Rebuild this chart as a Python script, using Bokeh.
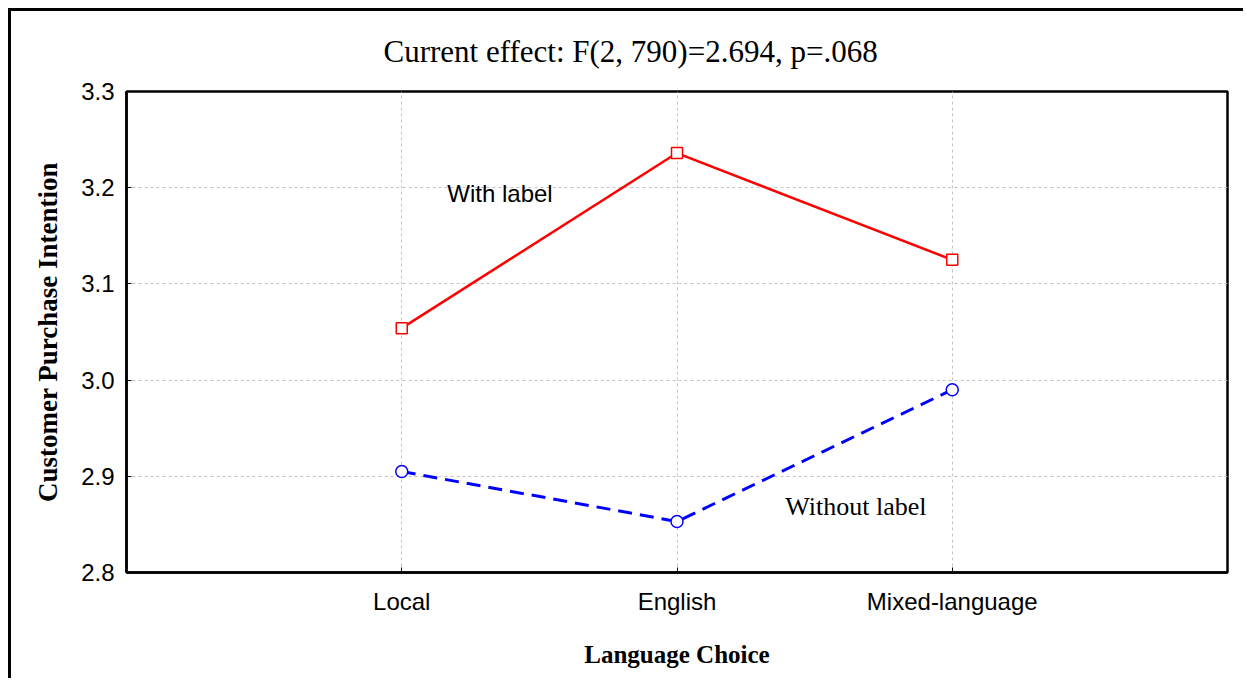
from bokeh.plotting import figure
from bokeh.models import Range1d, FixedTicker, Label, ColumnDataSource
from bokeh.embed import file_html
from bokeh.resources import INLINE

categories = ["Local", "English", "Mixed-language"]
cat_pos = [1, 2, 3]
with_label = [3.054, 3.236, 3.125]
without_label = [2.905, 2.853, 2.990]
y_ticks = [2.8, 2.9, 3.0, 3.1, 3.2, 3.3]
y_tick_labels = ["2.8", "2.9", "3.0", "3.1", "3.2", "3.3"]

title_text = "Current effect: F(2, 790)=2.694, p=.068"
x_title = "Language Choice"
y_title = "Customer Purchase Intention"

SANS = "Liberation Sans"
SERIF = "Liberation Serif"

p = figure(width=1235, height=670, output_backend="svg", toolbar_location=None,
           x_range=Range1d(0, 4), y_range=Range1d(2.8, 3.3),
           min_border_left=115, min_border_top=80, min_border_right=19,
           min_border_bottom=109, title=title_text)
p.styles = {"border-left": "3px solid black", "border-top": "3px solid black",
            "margin-left": "8px", "margin-top": "8px"}
p.background_fill_color = "white"
p.border_fill_color = "white"
p.outline_line_color = "black"
p.outline_line_width = 2.5

p.title.align = "left"
p.title.vertical_align = "top"
p.title.offset = 257
p.title.standoff = 41
p.title.text_font = SERIF
p.title.text_font_style = "normal"
p.title.text_font_size = "31px"
p.title.text_color = "black"

# axes
p.xaxis.ticker = FixedTicker(ticks=cat_pos)
p.xaxis.major_label_overrides = {k: v for k, v in zip(cat_pos, categories)}
p.yaxis.ticker = FixedTicker(ticks=y_ticks)
p.yaxis.major_label_overrides = {k: v for k, v in zip(y_ticks, y_tick_labels)}
for ax in (p.xaxis, p.yaxis):
    ax.axis_line_color = "black"
    ax.axis_line_width = 2.5
    ax.major_tick_in = 5
    ax.major_tick_out = 0
    ax.major_tick_line_color = "black"
    ax.minor_tick_line_color = None
    ax.major_label_text_font = SANS
    ax.major_label_text_font_size = "24px"
    ax.major_label_text_color = "black"
    ax.axis_label_text_font = SERIF
    ax.axis_label_text_font_style = "bold"
    ax.axis_label_text_color = "black"
p.xaxis.axis_label_text_font_size = "25px"
p.yaxis.axis_label_text_font_size = "27px"
p.xaxis.axis_label = x_title
p.yaxis.axis_label = y_title
p.xaxis.major_label_standoff = 15
p.yaxis.major_label_standoff = 12
p.xaxis.axis_label_standoff = 23
p.yaxis.axis_label_standoff = 15

p.xgrid.ticker = FixedTicker(ticks=cat_pos)
p.ygrid.ticker = FixedTicker(ticks=y_ticks)
for g in (p.xgrid, p.ygrid):
    g.grid_line_color = "#c4c4c4"
    g.grid_line_dash = "3 3"
    g.grid_line_width = 1

src = ColumnDataSource(dict(x=cat_pos, w=with_label, wo=without_label))

p.line("x", "w", source=src, line_color="#ff0000", line_width=2.5)
p.scatter("x", "w", source=src, marker="square", size=11, fill_color="white",
          line_color="#ff0000", line_width=1.5)

p.line("x", "wo", source=src, line_color="#0000ff", line_width=3, line_dash="14 8")
p.scatter("x", "wo", source=src, marker="circle", size=12, fill_color="white",
          line_color="#0000ff", line_width=1.5)

p.add_layout(Label(x=1.357, y=3.194, text="With label", text_font=SANS,
                   text_font_size="24px", text_align="center", text_baseline="middle",
                   text_color="black"))
p.add_layout(Label(x=2.65, y=2.8686, text="Without label", text_font=SERIF,
                   text_font_size="26px", text_align="center", text_baseline="middle",
                   text_color="black"))

open("out.html", "w").write(file_html(p, INLINE))
